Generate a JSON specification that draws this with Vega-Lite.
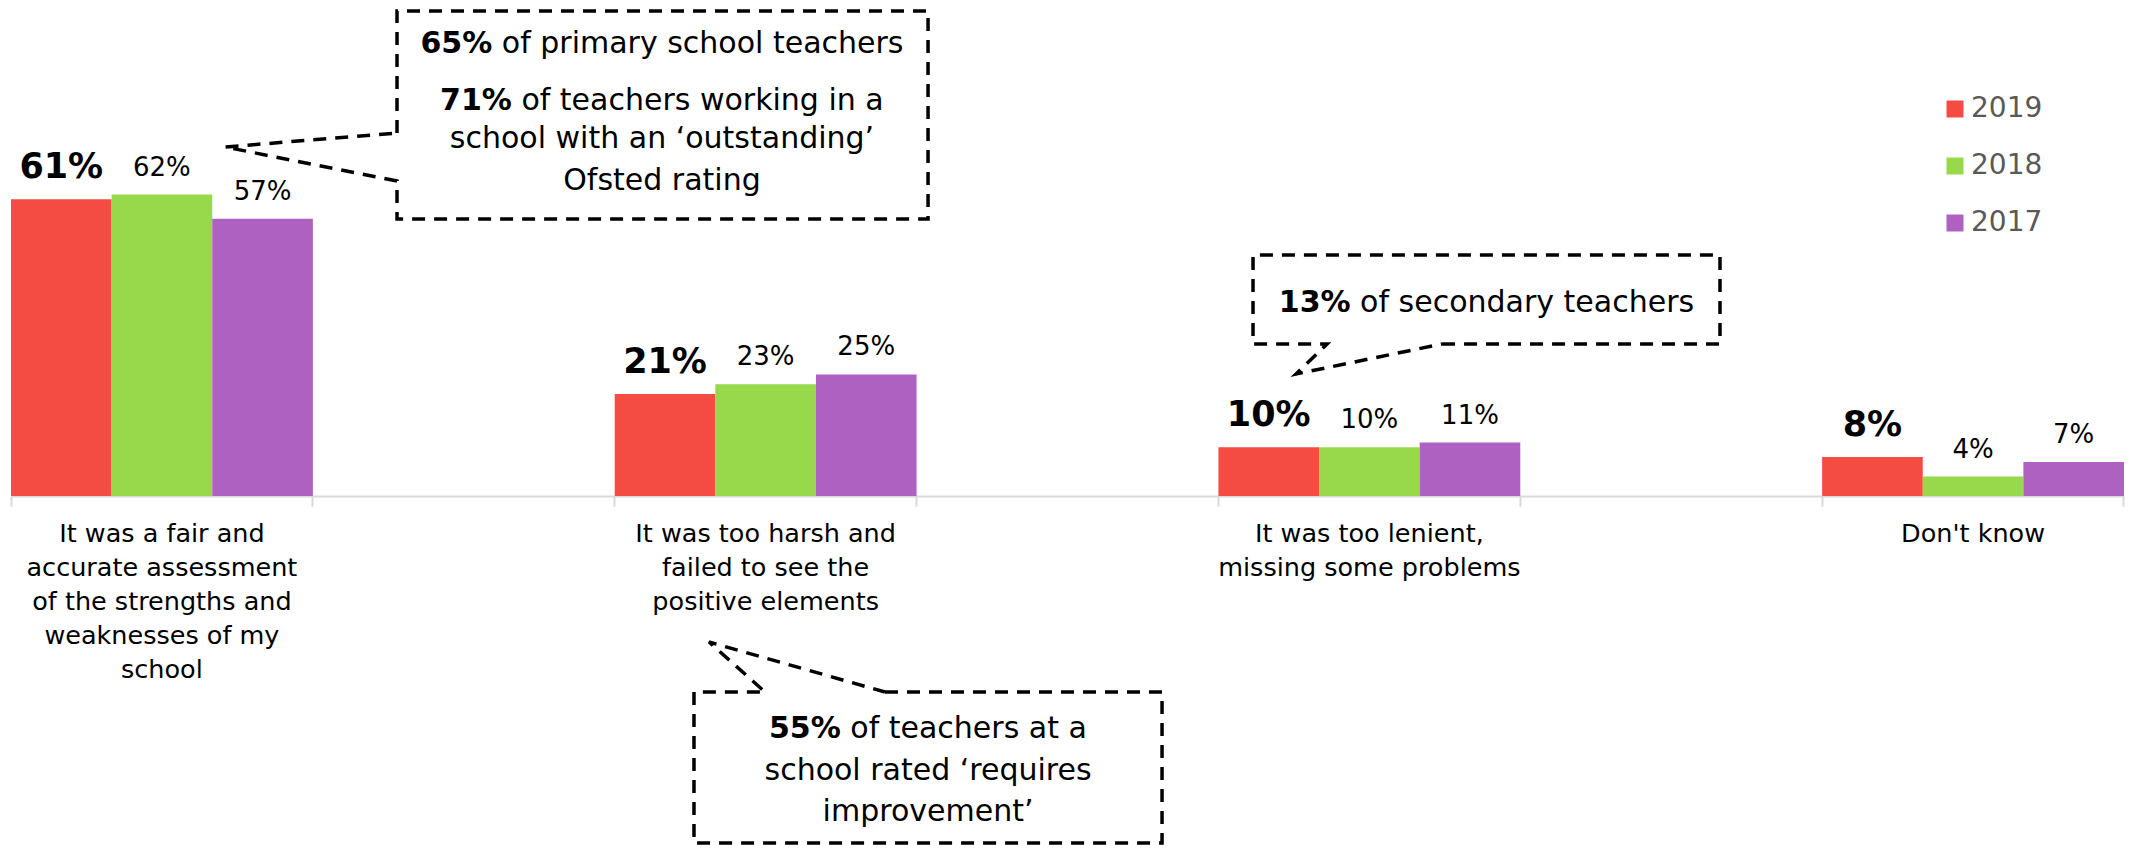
{
  "$schema": "https://vega.github.io/schema/vega-lite/v6.json",
  "autosize": "none",
  "padding": {"left": 0, "top": 0, "right": 0, "bottom": 355},
  "width": 2131,
  "height": 496,
  "background": "#ffffff",
  "config": {"view": {"stroke": null}, "font": "DejaVu Sans"},
  "datasets": {
    "bars": [
      {"response": "It was a fair and accurate assessment of the strengths and weaknesses of my school", "year": "2019", "pct": 0.61},
      {"response": "It was a fair and accurate assessment of the strengths and weaknesses of my school", "year": "2018", "pct": 0.62},
      {"response": "It was a fair and accurate assessment of the strengths and weaknesses of my school", "year": "2017", "pct": 0.57},
      {"response": "It was too harsh and failed to see the positive elements", "year": "2019", "pct": 0.21},
      {"response": "It was too harsh and failed to see the positive elements", "year": "2018", "pct": 0.23},
      {"response": "It was too harsh and failed to see the positive elements", "year": "2017", "pct": 0.25},
      {"response": "It was too lenient, missing some problems", "year": "2019", "pct": 0.10},
      {"response": "It was too lenient, missing some problems", "year": "2018", "pct": 0.10},
      {"response": "It was too lenient, missing some problems", "year": "2017", "pct": 0.11},
      {"response": "Don't know", "year": "2019", "pct": 0.08},
      {"response": "Don't know", "year": "2018", "pct": 0.04},
      {"response": "Don't know", "year": "2017", "pct": 0.07}
    ],
    "callouts": [
      {"id": "outstanding", "o": 1, "u": 0.6394, "v": 0.7465},
      {"id": "outstanding", "o": 2, "u": 0.6394, "v": 0.9974},
      {"id": "outstanding", "o": 3, "u": 1.5190, "v": 0.9974},
      {"id": "outstanding", "o": 4, "u": 1.5190, "v": 0.5696},
      {"id": "outstanding", "o": 5, "u": 0.6394, "v": 0.5696},
      {"id": "outstanding", "o": 6, "u": 0.6394, "v": 0.6478},
      {"id": "outstanding", "o": 7, "u": 0.3545, "v": 0.7177},
      {"id": "outstanding", "o": 8, "u": 0.6394, "v": 0.7465},
      {"id": "requires", "o": 1, "u": 1.4477, "v": -0.4031},
      {"id": "requires", "o": 2, "u": 1.9066, "v": -0.4031},
      {"id": "requires", "o": 3, "u": 1.9066, "v": -0.7136},
      {"id": "requires", "o": 4, "u": 1.1313, "v": -0.7136},
      {"id": "requires", "o": 5, "u": 1.1313, "v": -0.4031},
      {"id": "requires", "o": 6, "u": 1.2490, "v": -0.4031},
      {"id": "requires", "o": 7, "u": 1.1562, "v": -0.3002},
      {"id": "requires", "o": 8, "u": 1.4477, "v": -0.4031},
      {"id": "secondary", "o": 1, "u": 2.3704, "v": 0.3126},
      {"id": "secondary", "o": 2, "u": 2.8308, "v": 0.3126},
      {"id": "secondary", "o": 3, "u": 2.8308, "v": 0.4956},
      {"id": "secondary", "o": 4, "u": 2.0573, "v": 0.4956},
      {"id": "secondary", "o": 5, "u": 2.0573, "v": 0.3126},
      {"id": "secondary", "o": 6, "u": 2.1799, "v": 0.3126},
      {"id": "secondary", "o": 7, "u": 2.1285, "v": 0.2509},
      {"id": "secondary", "o": 8, "u": 2.3704, "v": 0.3126}
    ],
    "calloutText": [
      {"part": "figure", "u": 0.7972, "v": 0.9110, "text": "65%"},
      {"part": "rest", "u": 0.8130, "v": 0.9110, "text": "of primary school teachers"},
      {"part": "figure", "u": 0.8297, "v": 0.7938, "text": "71%"},
      {"part": "rest", "u": 0.8454, "v": 0.7938, "text": "of teachers working in a"},
      {"part": "line", "u": 1.0783, "v": 0.7156, "text": "school with an ‘outstanding’"},
      {"part": "line", "u": 1.0783, "v": 0.6293, "text": "Ofsted rating"},
      {"part": "figure", "u": 1.3745, "v": -0.4977, "text": "55%"},
      {"part": "rest", "u": 1.3902, "v": -0.4977, "text": "of teachers at a"},
      {"part": "line", "u": 1.5190, "v": -0.5840, "text": "school rated ‘requires"},
      {"part": "line", "u": 1.5190, "v": -0.6683, "text": "improvement’"},
      {"part": "figure", "u": 2.2189, "v": 0.3784, "text": "13%"},
      {"part": "rest", "u": 2.2347, "v": 0.3784, "text": "of secondary teachers"}
    ]
  },
  "layer": [
    {
      "data": {"name": "bars"},
      "layer": [
        {
          "mark": {"type": "bar"},
          "encoding": {
            "x": {
              "field": "response", "type": "nominal",
              "sort": ["It was a fair and accurate assessment of the strengths and weaknesses of my school", "It was too harsh and failed to see the positive elements", "It was too lenient, missing some problems", "Don't know"],
              "scale": {"domain": ["It was a fair and accurate assessment of the strengths and weaknesses of my school", "It was too harsh and failed to see the positive elements", "It was too lenient, missing some problems", "Don't know"], "range": [11, 2124], "paddingInner": 0.5, "paddingOuter": 0},
              "axis": {
                "title": null, "orient": "bottom", "ticks": false, "tickSize": 0, "domain": true,
                "domainColor": "#D9D9D9", "domainWidth": 2, "grid": false,
                "labelAngle": 0, "labelFont": "DejaVu Sans", "labelFontSize": 25.5, "labelColor": "#000000",
                "labelLineHeight": 34, "labelPadding": 25, "labelBaseline": "top", "labelLimit": 0, "labelOverlap": false,
                "labelExpr": "datum.value == 'It was a fair and accurate assessment of the strengths and weaknesses of my school' ? ['It was a fair and', 'accurate assessment', 'of the strengths and', 'weaknesses of my', 'school'] : datum.value == 'It was too harsh and failed to see the positive elements' ? ['It was too harsh and', 'failed to see the', 'positive elements'] : datum.value == 'It was too lenient, missing some problems' ? ['It was too lenient,', 'missing some problems'] : datum.label"
              }
            },
            "xOffset": {"field": "year", "type": "nominal", "scale": {"domain": ["2019", "2018", "2017"], "paddingInner": 0, "paddingOuter": 0}},
            "y": {"field": "pct", "type": "quantitative", "stack": null, "scale": {"domain": [0, 1.02], "nice": false}, "axis": null},
            "color": {
              "field": "year", "type": "nominal",
              "scale": {"domain": ["2019", "2018", "2017"], "range": ["#F44B42", "#97D94B", "#AF61C2"]},
              "legend": {
                "title": null, "orient": "none", "legendX": 1941, "legendY": 95, "direction": "vertical",
                "symbolType": "square", "symbolSize": 289, "symbolStrokeWidth": 0,
                "labelFont": "DejaVu Sans", "labelFontSize": 28, "labelColor": "#595959",
                "labelOffset": 2, "rowPadding": 29, "padding": 0
              }
            }
          }
        },
        {
          "transform": [{"filter": "datum.year != '2019'"}],
          "mark": {"type": "text", "baseline": "alphabetic", "dy": -19, "fontSize": 26, "font": "DejaVu Sans", "color": "#000000"},
          "encoding": {
            "x": {
              "field": "response", "type": "nominal",
              "sort": ["It was a fair and accurate assessment of the strengths and weaknesses of my school", "It was too harsh and failed to see the positive elements", "It was too lenient, missing some problems", "Don't know"],
              "scale": {"domain": ["It was a fair and accurate assessment of the strengths and weaknesses of my school", "It was too harsh and failed to see the positive elements", "It was too lenient, missing some problems", "Don't know"], "range": [11, 2124], "paddingInner": 0.5, "paddingOuter": 0},
              "axis": {"title": null, "orient": "bottom", "labels": false, "domain": false, "grid": false, "ticks": true, "tickSize": 10, "tickWidth": 2, "tickColor": "#D9D9D9", "bandPosition": 0}
            },
            "xOffset": {"field": "year", "type": "nominal", "scale": {"domain": ["2019", "2018", "2017"], "paddingInner": 0, "paddingOuter": 0}},
            "y": {"field": "pct", "type": "quantitative", "stack": null, "scale": {"domain": [0, 1.02], "nice": false}, "axis": null},
            "text": {"field": "pct", "type": "quantitative", "format": ".0%"}
          }
        },
        {
          "transform": [{"filter": "datum.year == '2019'"}],
          "mark": {"type": "text", "baseline": "alphabetic", "dy": -21, "fontSize": 35, "fontWeight": "bold", "font": "DejaVu Sans", "color": "#000000"},
          "encoding": {
            "x": {
              "field": "response", "type": "nominal",
              "sort": ["It was a fair and accurate assessment of the strengths and weaknesses of my school", "It was too harsh and failed to see the positive elements", "It was too lenient, missing some problems", "Don't know"],
              "scale": {"domain": ["It was a fair and accurate assessment of the strengths and weaknesses of my school", "It was too harsh and failed to see the positive elements", "It was too lenient, missing some problems", "Don't know"], "range": [11, 2124], "paddingInner": 0.5, "paddingOuter": 0},
              "axis": {"title": null, "orient": "bottom", "labels": false, "domain": false, "grid": false, "ticks": true, "tickSize": 10, "tickWidth": 2, "tickColor": "#D9D9D9", "bandPosition": 1}
            },
            "xOffset": {"field": "year", "type": "nominal", "scale": {"domain": ["2019", "2018", "2017"], "paddingInner": 0, "paddingOuter": 0}},
            "y": {"field": "pct", "type": "quantitative", "stack": null, "scale": {"domain": [0, 1.02], "nice": false}, "axis": null},
            "text": {"field": "pct", "type": "quantitative", "format": ".0%"}
          }
        }
      ],
      "resolve": {"axis": {"x": "independent"}}
    },
    {
      "data": {"name": "callouts"},
      "mark": {"type": "line", "color": "#000000", "strokeWidth": 3.5, "strokeDash": [13, 9], "strokeCap": "butt", "strokeJoin": "miter", "clip": false},
      "encoding": {
        "x": {"field": "u", "type": "quantitative", "scale": {"domain": [0, 3.5], "range": [11, 2124], "nice": false, "zero": false}, "axis": null},
        "y": {"field": "v", "type": "quantitative", "scale": {"domain": [0, 1.02], "nice": false}, "axis": null},
        "detail": {"field": "id", "type": "nominal"},
        "order": {"field": "o", "type": "quantitative"}
      }
    },
    {
      "data": {"name": "calloutText"},
      "layer": [
        {
          "transform": [{"filter": "datum.part == 'figure'"}],
          "mark": {"type": "text", "align": "right", "baseline": "alphabetic", "fontSize": 30, "fontWeight": "bold", "font": "DejaVu Sans", "color": "#000000"},
          "encoding": {
            "x": {"field": "u", "type": "quantitative", "scale": {"domain": [0, 3.5], "range": [11, 2124], "nice": false, "zero": false}, "axis": null},
            "y": {"field": "v", "type": "quantitative", "scale": {"domain": [0, 1.02], "nice": false}, "axis": null},
            "text": {"field": "text", "type": "nominal"}
          }
        },
        {
          "transform": [{"filter": "datum.part == 'rest'"}],
          "mark": {"type": "text", "align": "left", "baseline": "alphabetic", "fontSize": 30, "font": "DejaVu Sans", "color": "#000000"},
          "encoding": {
            "x": {"field": "u", "type": "quantitative", "scale": {"domain": [0, 3.5], "range": [11, 2124], "nice": false, "zero": false}, "axis": null},
            "y": {"field": "v", "type": "quantitative", "scale": {"domain": [0, 1.02], "nice": false}, "axis": null},
            "text": {"field": "text", "type": "nominal"}
          }
        },
        {
          "transform": [{"filter": "datum.part == 'line'"}],
          "mark": {"type": "text", "align": "center", "baseline": "alphabetic", "fontSize": 30, "font": "DejaVu Sans", "color": "#000000"},
          "encoding": {
            "x": {"field": "u", "type": "quantitative", "scale": {"domain": [0, 3.5], "range": [11, 2124], "nice": false, "zero": false}, "axis": null},
            "y": {"field": "v", "type": "quantitative", "scale": {"domain": [0, 1.02], "nice": false}, "axis": null},
            "text": {"field": "text", "type": "nominal"}
          }
        }
      ]
    }
  ],
  "resolve": {"scale": {"x": "independent"}, "axis": {"x": "independent"}}
}
